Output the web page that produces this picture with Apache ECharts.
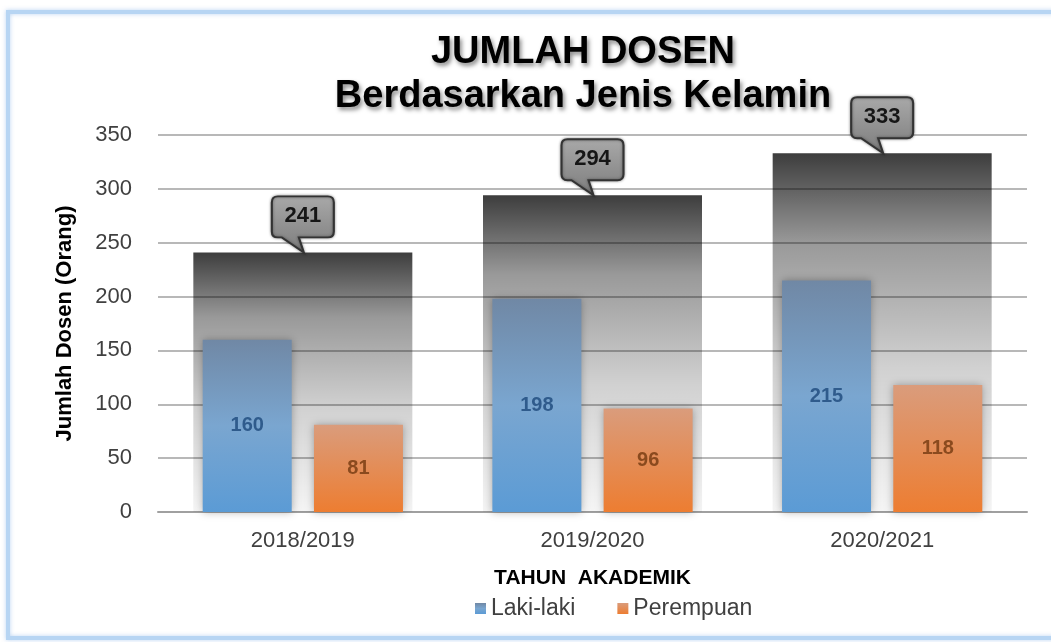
<!DOCTYPE html>
<html>
<head>
<meta charset="utf-8">
<script src="https://cdn.jsdelivr.net/npm/echarts@6/dist/echarts.min.js"></script>
<style>
html, body { margin: 0; padding: 0; background: #fff; }
#container { width: 1051px; height: 642px; }
</style>
</head>
<body>
<div id="container"></div>
<script>
var dom = document.getElementById("container");
var myChart = echarts.init(dom);

// data
var tahun = ["2018/2019", "2019/2020", "2020/2021"];
var lakiLaki = [160, 198, 215];
var perempuan = [81, 96, 118];
var jumlah = [241, 294, 333];
var yTicks = [0, 350, 50]; // min, max, interval

var font = "Liberation Sans, Arial, sans-serif";

// callout balloon for the totals
var calloutPath = "path://M6,0 L56,0 Q62,0 62,6 L62,35 Q62,41 56,41 L27,41 L32,56 L10,41 L6,41 Q0,41 0,35 L0,6 Q0,0 6,0 Z";
var calloutData = [];
for (var i = 0; i < tahun.length; i++) {
    calloutData.push({ coord: [tahun[i], jumlah[i]], value: jumlah[i] });
}

var option = {
    backgroundColor: "#ffffff",
    textStyle: { fontFamily: font },
    graphic: [{
        type: "rect",
        shape: { x: 8, y: 12, width: 1060, height: 626 },
        style: { fill: "none", stroke: "#b7d5f3", lineWidth: 4, shadowBlur: 4, shadowColor: "rgba(120,170,230,0.5)" },
        silent: true
    }],
    title: {
        text: "JUMLAH DOSEN\nBerdasarkan Jenis Kelamin",
        left: 578,
        textAlign: "center",
        top: 26,
        textStyle: {
            fontFamily: font,
            fontSize: 38,
            fontWeight: "bold",
            color: "#000",
            lineHeight: 44,
            textShadowColor: "rgba(0,0,0,0.45)",
            textShadowBlur: 4,
            textShadowOffsetX: 2,
            textShadowOffsetY: 3
        }
    },
    legend: {
        data: ["Laki-laki", "Perempuan"],
        top: 592,
        left: 470,
        icon: "rect",
        itemWidth: 11,
        itemHeight: 11,
        itemGap: 42,
        textStyle: { fontFamily: font, fontSize: 23, color: "#404040" }
    },
    grid: { left: 158, right: 24, top: 135, bottom: 130 },
    xAxis: [{
        type: "category",
        data: tahun,
        name: "TAHUN  AKADEMIK",
        nameLocation: "middle",
        nameGap: 56,
        nameTextStyle: { fontFamily: font, fontSize: 21, fontWeight: "bold", color: "#000" },
        axisTick: { show: false },
        axisLine: { lineStyle: { color: "#a0a0a0", width: 2 } },
        axisLabel: { fontSize: 22, color: "#404040", margin: 18 }
    }, {
        type: "category",
        data: tahun,
        show: false
    }],
    yAxis: {
        type: "value",
        min: yTicks[0],
        max: yTicks[1],
        interval: yTicks[2],
        name: "Jumlah Dosen (Orang)",
        nameLocation: "middle",
        nameGap: 82,
        nameTextStyle: { fontFamily: font, fontSize: 22, fontWeight: "bold", color: "#000" },
        axisLine: { show: false },
        axisTick: { show: false },
        axisLabel: { fontSize: 22, color: "#404040", margin: 26 },
        splitLine: { lineStyle: { color: "#a0a0a0", width: 1.5 } }
    },
    series: [{
        name: "Jumlah",
        type: "bar",
        xAxisIndex: 1,
        data: jumlah,
        barWidth: 219,
        z: 1,
        itemStyle: {
            color: new echarts.graphic.LinearGradient(0, 0, 0, 1, [
                { offset: 0, color: "rgba(0,0,0,0.76)" },
                { offset: 0.25, color: "rgba(0,0,0,0.40)" },
                { offset: 0.6, color: "rgba(0,0,0,0.18)" },
                { offset: 1, color: "rgba(0,0,0,0.04)" }
            ])
        },
        markPoint: {
            symbol: calloutPath,
            symbolSize: [62, 56],
            symbolOffset: [0, -28],
            itemStyle: {
                color: new echarts.graphic.LinearGradient(0, 0, 0, 1, [
                    { offset: 0, color: "#a9a9a9" },
                    { offset: 1, color: "#7c7c7c" }
                ]),
                borderColor: "#333",
                borderWidth: 2,
                shadowBlur: 3,
                shadowColor: "rgba(0,0,0,0.4)"
            },
            label: {
                show: true,
                position: "inside",
                offset: [0, -8],
                fontFamily: font,
                fontSize: 22,
                fontWeight: "bold",
                color: "#161616"
            },
            data: calloutData
        }
    }, {
        name: "Laki-laki",
        type: "bar",
        data: lakiLaki,
        barWidth: 89,
        barGap: "25%",
        z: 3,
        itemStyle: {
            color: new echarts.graphic.LinearGradient(0, 0, 0, 1, [
                { offset: 0, color: "#7088a5" },
                { offset: 0.5, color: "#7aa6d0" },
                { offset: 1, color: "#5b9bd5" }
            ]),
            shadowBlur: 8,
            shadowColor: "rgba(0,0,0,0.3)"
        },
        label: {
            show: true,
            position: "inside",
            fontFamily: font,
            fontSize: 20,
            fontWeight: "bold",
            color: "#2f5b8c"
        }
    }, {
        name: "Perempuan",
        type: "bar",
        data: perempuan,
        barWidth: 89,
        z: 3,
        itemStyle: {
            color: new echarts.graphic.LinearGradient(0, 0, 0, 1, [
                { offset: 0, color: "#da9c7c" },
                { offset: 1, color: "#ed7d31" }
            ]),
            shadowBlur: 8,
            shadowColor: "rgba(0,0,0,0.3)"
        },
        label: {
            show: true,
            position: "inside",
            fontFamily: font,
            fontSize: 20,
            fontWeight: "bold",
            color: "#8a4a1e"
        }
    }]
};
if (option && typeof option === "object") {
    myChart.setOption(option, true);
}
</script>
</body>
</html>
